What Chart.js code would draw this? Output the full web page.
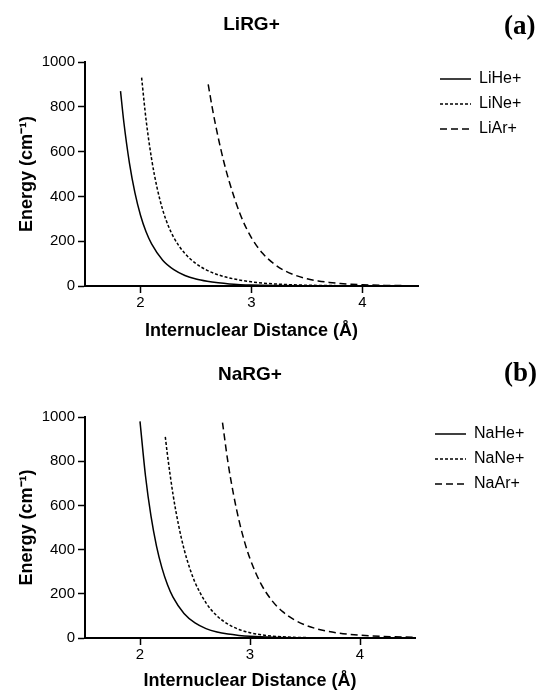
<!DOCTYPE html>
<html>
<head>
<meta charset="utf-8">
<script src="https://cdn.jsdelivr.net/npm/chart.js@4.4.1/dist/chart.umd.min.js"></script>
<style>
  body { margin: 0; background: #fff; }
  #wrap { position: relative; width: 542px; height: 692px; }
  canvas { position: absolute; left: 0; }
  .tag { position: absolute; left: 504px; font: bold 27px "Liberation Serif", "DejaVu Serif", serif; line-height: 30px; color: #000; }
</style>
</head>
<body>
<div id="wrap">
  <canvas id="graficoA" width="542" height="344" style="top:0"></canvas>
  <canvas id="graficoB" width="542" height="348" style="top:344px"></canvas>
  <div class="tag" style="top:10px">(a)</div>
  <div class="tag" style="top:357px">(b)</div>
</div>
<script>
// distancias (A) e energias (cm-1)
const liHeR = [1.82, 1.85, 1.9, 1.95, 2.0, 2.05, 2.1, 2.2, 2.3, 2.4, 2.5, 2.6, 2.7, 2.8, 2.9, 3.0, 3.2, 3.5, 4.0, 4.5];
const liHeE = [870, 731, 550, 416, 316, 242, 188, 115, 73, 47, 31, 21, 14, 9, 6, 4, 2, 0.6, 0.1, 0];

const liNeR = [2.01, 2.05, 2.1, 2.15, 2.2, 2.25, 2.3, 2.4, 2.5, 2.6, 2.7, 2.8, 2.9, 3.0, 3.2, 3.5, 4.0, 4.5];
const liNeE = [930, 743, 567, 437, 340, 269, 216, 145, 100, 70, 50, 36, 26, 18.5, 9.5, 3.5, 1, 0.3];

const liArR = [2.61, 2.65, 2.7, 2.75, 2.8, 2.9, 3.0, 3.1, 3.2, 3.3, 3.4, 3.5, 3.6, 3.7, 3.8, 3.9, 4.0, 4.2, 4.5];
const liArE = [900, 786, 663, 556, 465, 318, 215, 146, 100, 68, 47, 32.5, 22.7, 15.9, 11.1, 7.8, 5.5, 2.7, 1];

const naHeR = [2.0, 2.05, 2.1, 2.15, 2.2, 2.25, 2.3, 2.4, 2.5, 2.6, 2.7, 2.8, 2.9, 3.0, 3.2, 3.5, 4.0, 4.5];
const naHeE = [980, 733, 551, 416, 316, 241, 185, 111, 68, 42.5, 27, 17.6, 11.8, 7.9, 3.6, 1.1, 0.2, 0];

const naNeR = [2.23, 2.25, 2.3, 2.35, 2.4, 2.45, 2.5, 2.6, 2.7, 2.8, 2.9, 3.0, 3.1, 3.2, 3.4, 3.6, 4.0, 4.5];
const naNeE = [910, 827, 650, 512, 403, 319, 252, 159, 100, 62.5, 38.7, 23.7, 14.4, 8.7, 3.1, 1.1, 0.15, 0];

const naArR = [2.75, 2.8, 2.85, 2.9, 2.95, 3.0, 3.1, 3.2, 3.3, 3.4, 3.5, 3.6, 3.7, 3.8, 3.9, 4.0, 4.2, 4.5];
const naArE = [975, 794, 650, 532, 436, 359, 245, 169, 118, 83, 59, 42.5, 30.8, 22.6, 16.7, 12.5, 7.1, 3.3];

const liNomes = ["LiHe+", "LiNe+", "LiAr+"];
const naNomes = ["NaHe+", "NaNe+", "NaAr+"];

const xTicks = [2, 3, 4];
const yTicks = [0, 200, 400, 600, 800, 1000];

const tracos = [[], [3, 2], [7, 4]];

Chart.defaults.font.family = "'Liberation Sans', Arial, sans-serif";
Chart.defaults.color = "#000";

// empurra a legenda um pouco para a direita
const moverLegenda = {
  id: "moverLegenda",
  afterLayout(chart, args, opts) {
    chart.legend.left += opts.dx;
    chart.legend.right += opts.dx;
  },
};

function serie(xs, ys) {
  return xs.map((x, i) => ({ x: x, y: ys[i] }));
}

function criarGrafico(id, titulo, nomes, series, cfg) {
  return new Chart(document.getElementById(id), {
    type: "line",
    plugins: [moverLegenda],
    data: {
      datasets: series.map((s, i) => ({
        label: nomes[i],
        data: serie(s[0], s[1]),
        borderColor: "#000",
        borderWidth: 1.5,
        borderDash: tracos[i],
        pointRadius: 0,
        cubicInterpolationMode: "monotone",
        fill: false,
      })),
    },
    options: {
      responsive: false,
      animation: false,
      devicePixelRatio: 1,
      layout: { padding: 0 },
      plugins: {
        title: {
          display: true,
          text: titulo,
          fullSize: false,
          color: "#000",
          font: { size: 19, weight: "bold" },
          padding: { top: cfg.tituloTopo, bottom: cfg.tituloBaixo },
        },
        legend: {
          position: "right",
          align: "start",
          fullSize: false,
          labels: {
            usePointStyle: true,
            pointStyle: "line",
            pointStyleWidth: 31,
            color: "#000",
            font: { size: 16 },
            padding: 9,
            generateLabels: (chart) =>
              Chart.defaults.plugins.legend.labels.generateLabels(chart).map((item) => ({
                ...item,
                lineDash: tracos[item.datasetIndex],
                lineWidth: 1.5,
                strokeStyle: "#000",
              })),
          },
        },
        tooltip: { enabled: false },
        moverLegenda: { dx: cfg.dx },
      },
      scales: {
        x: {
          type: "linear",
          min: 1.5,
          max: 4.5,
          afterBuildTicks: (s) => {
            s.ticks = xTicks.map((v) => ({ value: v }));
          },
          afterFit: (s) => {
            s.height = cfg.alturaX;
            s.paddingRight = cfg.direita;
          },
          ticks: { font: { size: 15 }, color: "#000", padding: 1, maxRotation: 0, callback: (v) => String(v) },
          grid: { drawOnChartArea: false, drawTicks: true, tickLength: 7, tickWidth: 1.5, tickColor: "#000" },
          border: { color: "#000", width: 2 },
          title: {
            display: true,
            text: "Internuclear Distance (Å)",
            color: "#000",
            font: { size: 18, weight: "bold" },
            padding: { top: 0, bottom: cfg.xTituloBaixo },
          },
        },
        y: {
          min: 0,
          max: 1000,
          afterBuildTicks: (s) => {
            s.ticks = yTicks.map((v) => ({ value: v }));
          },
          afterFit: (s) => {
            s.width = 85;
          },
          ticks: { font: { size: 15 }, color: "#000", padding: 3, callback: (v) => String(v) },
          grid: { drawOnChartArea: false, drawTicks: true, tickLength: 7, tickWidth: 1.5, tickColor: "#000" },
          border: { color: "#000", width: 2 },
          title: {
            display: true,
            text: "Energy (cm⁻¹)",
            color: "#000",
            font: { size: 18, weight: "bold" },
            padding: { top: 16, bottom: 0 },
          },
        },
      },
    },
  });
}

criarGrafico("graficoA", "LiRG+", liNomes,
  [[liHeR, liHeE], [liNeR, liNeE], [liArR, liArE]],
  { tituloTopo: 13.6, tituloBaixo: 25.6, alturaX: 58, direita: 124, dx: 13, xTituloBaixo: 2 });

criarGrafico("graficoB", "NaRG+", naNomes,
  [[naHeR, naHeE], [naNeR, naNeE], [naArR, naArE]],
  { tituloTopo: 19.6, tituloBaixo: 30.6, alturaX: 54, direita: 127, dx: 11, xTituloBaixo: 0 });
</script>
</body>
</html>
